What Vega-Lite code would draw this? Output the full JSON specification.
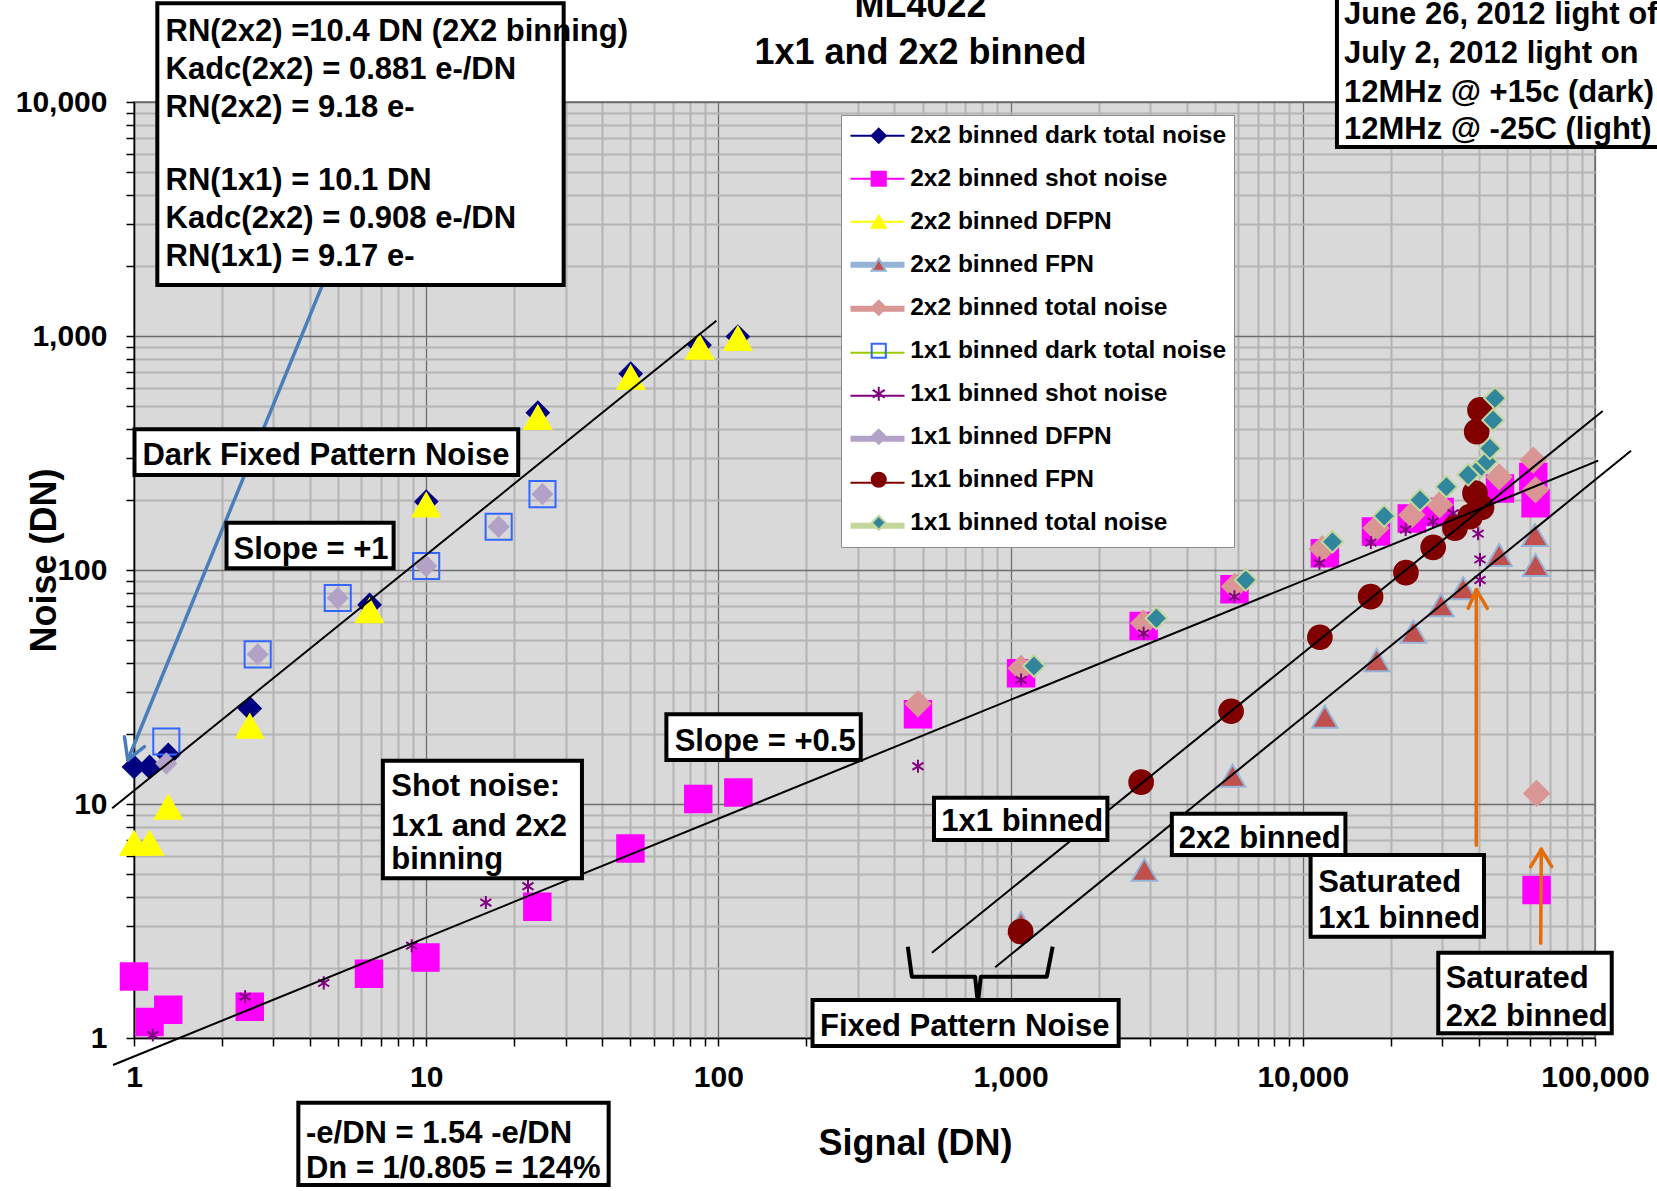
{
  "$schema": "https://vega.github.io/schema/vega-lite/v6.json",
  "width": 1461,
  "height": 936,
  "autosize": {"type": "none"},
  "padding": {"left": 134, "top": 102, "right": 62, "bottom": 153},
  "background": "white",
  "title": {"text": ["ML4022", "1x1 and 2x2 binned"], "font": "Liberation Sans", "fontSize": 36, "fontWeight": "bold", "color": "black", "anchor": "middle", "frame": "group", "dx": 56, "offset": -139.6, "lineHeight": 46.6, "baseline": "bottom"},
  "datasets": {
    "legendlines": [
      {"lg": "L01", "x": 1, "y": 1}, {"lg": "L02", "x": 1, "y": 1}, {"lg": "L03", "x": 1, "y": 1}, {"lg": "L04", "x": 1, "y": 1}, {"lg": "L05", "x": 1, "y": 1},
      {"lg": "L06", "x": 1, "y": 1}, {"lg": "L07", "x": 1, "y": 1}, {"lg": "L08", "x": 1, "y": 1}, {"lg": "L09", "x": 1, "y": 1}, {"lg": "L10", "x": 1, "y": 1}
    ],
    "pts": [
      {"series": "2x2 binned dark total noise", "x": 1, "y": 14.4},
      {"series": "2x2 binned dark total noise", "x": 1.13, "y": 14.4},
      {"series": "2x2 binned dark total noise", "x": 1.31, "y": 16.2},
      {"series": "2x2 binned dark total noise", "x": 2.49, "y": 25.6},
      {"series": "2x2 binned dark total noise", "x": 6.4, "y": 71},
      {"series": "2x2 binned dark total noise", "x": 10, "y": 196},
      {"series": "2x2 binned dark total noise", "x": 24.1, "y": 470},
      {"series": "2x2 binned dark total noise", "x": 50.1, "y": 690},
      {"series": "2x2 binned dark total noise", "x": 86.2, "y": 915},
      {"series": "2x2 binned dark total noise", "x": 116.6, "y": 995},
      {"series": "2x2 binned shot noise", "x": 1, "y": 1.83},
      {"series": "2x2 binned shot noise", "x": 1.13, "y": 1.17},
      {"series": "2x2 binned shot noise", "x": 1.31, "y": 1.32},
      {"series": "2x2 binned shot noise", "x": 2.49, "y": 1.36},
      {"series": "2x2 binned shot noise", "x": 6.37, "y": 1.88},
      {"series": "2x2 binned shot noise", "x": 9.94, "y": 2.21},
      {"series": "2x2 binned shot noise", "x": 24, "y": 3.64},
      {"series": "2x2 binned shot noise", "x": 50, "y": 6.45},
      {"series": "2x2 binned shot noise", "x": 85.3, "y": 10.5},
      {"series": "2x2 binned shot noise", "x": 117, "y": 11.2},
      {"series": "2x2 binned shot noise", "x": 482, "y": 24.2},
      {"series": "2x2 binned shot noise", "x": 1086, "y": 36.2},
      {"series": "2x2 binned shot noise", "x": 2853, "y": 57.6},
      {"series": "2x2 binned shot noise", "x": 5836, "y": 82.7},
      {"series": "2x2 binned shot noise", "x": 11900, "y": 118},
      {"series": "2x2 binned shot noise", "x": 17800, "y": 146},
      {"series": "2x2 binned shot noise", "x": 23600, "y": 166},
      {"series": "2x2 binned shot noise", "x": 29400, "y": 177},
      {"series": "2x2 binned shot noise", "x": 47300, "y": 223},
      {"series": "2x2 binned shot noise", "x": 61500, "y": 250},
      {"series": "2x2 binned shot noise", "x": 62600, "y": 193},
      {"series": "2x2 binned shot noise", "x": 63100, "y": 4.29},
      {"series": "2x2 binned DFPN", "x": 1, "y": 6.8},
      {"series": "2x2 binned DFPN", "x": 1.13, "y": 6.8},
      {"series": "2x2 binned DFPN", "x": 1.31, "y": 9.7},
      {"series": "2x2 binned DFPN", "x": 2.49, "y": 21.5},
      {"series": "2x2 binned DFPN", "x": 6.4, "y": 67},
      {"series": "2x2 binned DFPN", "x": 10, "y": 190},
      {"series": "2x2 binned DFPN", "x": 24.1, "y": 449},
      {"series": "2x2 binned DFPN", "x": 50.1, "y": 665},
      {"series": "2x2 binned DFPN", "x": 86.2, "y": 896},
      {"series": "2x2 binned DFPN", "x": 116.6, "y": 977},
      {"series": "2x2 binned FPN", "x": 1085, "y": 3.1},
      {"series": "2x2 binned FPN", "x": 2870, "y": 5.24},
      {"series": "2x2 binned FPN", "x": 5750, "y": 13.2},
      {"series": "2x2 binned FPN", "x": 11900, "y": 23.6},
      {"series": "2x2 binned FPN", "x": 17900, "y": 41.2},
      {"series": "2x2 binned FPN", "x": 23900, "y": 54.5},
      {"series": "2x2 binned FPN", "x": 29700, "y": 70.8},
      {"series": "2x2 binned FPN", "x": 35400, "y": 83.5},
      {"series": "2x2 binned FPN", "x": 47000, "y": 116},
      {"series": "2x2 binned FPN", "x": 62300, "y": 141},
      {"series": "2x2 binned FPN", "x": 62600, "y": 105},
      {"series": "2x2 binned total noise", "x": 482, "y": 26.8},
      {"series": "2x2 binned total noise", "x": 1086, "y": 38},
      {"series": "2x2 binned total noise", "x": 2853, "y": 59.2},
      {"series": "2x2 binned total noise", "x": 5836, "y": 85},
      {"series": "2x2 binned total noise", "x": 11650, "y": 123},
      {"series": "2x2 binned total noise", "x": 17800, "y": 151},
      {"series": "2x2 binned total noise", "x": 23600, "y": 172},
      {"series": "2x2 binned total noise", "x": 29400, "y": 190},
      {"series": "2x2 binned total noise", "x": 47000, "y": 250},
      {"series": "2x2 binned total noise", "x": 61500, "y": 295},
      {"series": "2x2 binned total noise", "x": 62600, "y": 220},
      {"series": "2x2 binned total noise", "x": 63100, "y": 11.1},
      {"series": "1x1 binned dark total noise", "x": 1.29, "y": 18.5},
      {"series": "1x1 binned dark total noise", "x": 2.65, "y": 43.6},
      {"series": "1x1 binned dark total noise", "x": 4.98, "y": 75.9},
      {"series": "1x1 binned dark total noise", "x": 10, "y": 104},
      {"series": "1x1 binned dark total noise", "x": 17.7, "y": 153},
      {"series": "1x1 binned dark total noise", "x": 25, "y": 211},
      {"series": "1x1 binned shot noise", "x": 1.16, "y": 1.03},
      {"series": "1x1 binned shot noise", "x": 2.4, "y": 1.5},
      {"series": "1x1 binned shot noise", "x": 4.46, "y": 1.72},
      {"series": "1x1 binned shot noise", "x": 8.92, "y": 2.48},
      {"series": "1x1 binned shot noise", "x": 16, "y": 3.79},
      {"series": "1x1 binned shot noise", "x": 22.3, "y": 4.45},
      {"series": "1x1 binned shot noise", "x": 482, "y": 14.5},
      {"series": "1x1 binned shot noise", "x": 1086, "y": 33.9},
      {"series": "1x1 binned shot noise", "x": 2853, "y": 53.6},
      {"series": "1x1 binned shot noise", "x": 5836, "y": 76.9},
      {"series": "1x1 binned shot noise", "x": 11400, "y": 107},
      {"series": "1x1 binned shot noise", "x": 17100, "y": 131},
      {"series": "1x1 binned shot noise", "x": 22500, "y": 149},
      {"series": "1x1 binned shot noise", "x": 27900, "y": 161},
      {"series": "1x1 binned shot noise", "x": 32700, "y": 175},
      {"series": "1x1 binned shot noise", "x": 39800, "y": 143},
      {"series": "1x1 binned shot noise", "x": 40400, "y": 111},
      {"series": "1x1 binned shot noise", "x": 40400, "y": 90.6},
      {"series": "1x1 binned DFPN", "x": 1.29, "y": 14.9},
      {"series": "1x1 binned DFPN", "x": 2.65, "y": 43.6},
      {"series": "1x1 binned DFPN", "x": 4.98, "y": 75.9},
      {"series": "1x1 binned DFPN", "x": 10, "y": 104},
      {"series": "1x1 binned DFPN", "x": 17.7, "y": 153},
      {"series": "1x1 binned DFPN", "x": 25, "y": 211},
      {"series": "1x1 binned FPN", "x": 1082, "y": 2.85},
      {"series": "1x1 binned FPN", "x": 2797, "y": 12.4},
      {"series": "1x1 binned FPN", "x": 5683, "y": 24.9},
      {"series": "1x1 binned FPN", "x": 11440, "y": 51.6},
      {"series": "1x1 binned FPN", "x": 17060, "y": 76.9},
      {"series": "1x1 binned FPN", "x": 22540, "y": 97.4},
      {"series": "1x1 binned FPN", "x": 27940, "y": 125},
      {"series": "1x1 binned FPN", "x": 33170, "y": 151},
      {"series": "1x1 binned FPN", "x": 37340, "y": 169},
      {"series": "1x1 binned FPN", "x": 40900, "y": 185},
      {"series": "1x1 binned FPN", "x": 38840, "y": 213},
      {"series": "1x1 binned FPN", "x": 39360, "y": 390},
      {"series": "1x1 binned FPN", "x": 40400, "y": 483},
      {"series": "1x1 binned total noise", "x": 1202, "y": 38.9},
      {"series": "1x1 binned total noise", "x": 3154, "y": 62.2},
      {"series": "1x1 binned total noise", "x": 6376, "y": 90.6},
      {"series": "1x1 binned total noise", "x": 12630, "y": 132},
      {"series": "1x1 binned total noise", "x": 19000, "y": 170},
      {"series": "1x1 binned total noise", "x": 25200, "y": 199},
      {"series": "1x1 binned total noise", "x": 31000, "y": 227},
      {"series": "1x1 binned total noise", "x": 36800, "y": 255},
      {"series": "1x1 binned total noise", "x": 40900, "y": 277},
      {"series": "1x1 binned total noise", "x": 42600, "y": 291},
      {"series": "1x1 binned total noise", "x": 43700, "y": 331},
      {"series": "1x1 binned total noise", "x": 44800, "y": 437},
      {"series": "1x1 binned total noise", "x": 45500, "y": 542}
    ],
    "trend": [
      {"x": 0.842, "y": 9.586, "x2": 98.4, "y2": 1163},
      {"x": 0.848, "y": 0.767, "x2": 102600, "y2": 293.2},
      {"x": 538.2, "y": 2.315, "x2": 106300, "y2": 478},
      {"x": 885.8, "y": 2.005, "x2": 132800, "y2": 323.5}
    ],
    "bluearrow": [
      {"x": 4.53, "y": 1790, "x2": 0.9523, "y2": 15.42},
      {"x": 0.9278, "y": 19.4, "x2": 0.9523, "y2": 15.42},
      {"x": 1.0863, "y": 17.58, "x2": 0.9523, "y2": 15.42}
    ],
    "orangearrows": [
      {"x": 39240, "y": 6.656, "x2": 39240, "y2": 82.37},
      {"x": 36830, "y": 68.6, "x2": 39240, "y2": 82.37},
      {"x": 42800, "y": 68.6, "x2": 39240, "y2": 82.37},
      {"x": 65200, "y": 2.539, "x2": 65500, "y2": 6.404},
      {"x": 60230, "y": 5.396, "x2": 65500, "y2": 6.404},
      {"x": 71080, "y": 5.396, "x2": 65500, "y2": 6.404}
    ],
    "brace": [
      {"i": 1, "x": 444.9, "y": 2.456},
      {"i": 2, "x": 459.3, "y": 1.828},
      {"i": 3, "x": 755.7, "y": 1.828},
      {"i": 4, "x": 772.8, "y": 1.407},
      {"i": 5, "x": 790.7, "y": 1.828},
      {"i": 6, "x": 1330, "y": 1.828},
      {"i": 7, "x": 1393, "y": 2.456}
    ],
    "boxes": [
      {"x1": 1.2017, "x2": 29.54, "y1": 26410, "y2": 1651},
      {"x1": 13088, "x2": 228800, "y1": 36650, "y2": 6422},
      {"x1": 1.004, "x2": 20.65, "y1": 399.2, "y2": 254.7},
      {"x1": 2.073, "x2": 7.735, "y1": 159.3, "y2": 101.7},
      {"x1": 66.37, "x2": 307, "y1": 24.17, "y2": 15.42},
      {"x1": 7.108, "x2": 34.12, "y1": 15.31, "y2": 4.814},
      {"x1": 546.8, "x2": 2144, "y1": 10.63, "y2": 7.011},
      {"x1": 3563, "x2": 13990, "y1": 9.09, "y2": 6.055},
      {"x1": 10634, "x2": 41690, "y1": 6.055, "y2": 2.71},
      {"x1": 29080, "x2": 114100, "y1": 2.315, "y2": 1.047},
      {"x1": 210, "x2": 2343, "y1": 1.453, "y2": 0.9243},
      {"x1": 3.651, "x2": 42.11, "y1": 0.5291, "y2": 0.2354}
    ],
    "notes": [
      {"x": 1.2818, "y": 19890, "text": "RN(2x2) =10.4 DN (2X2 binning)"},
      {"x": 1.2818, "y": 13690, "text": "Kadc(2x2) = 0.881 e-/DN"},
      {"x": 1.2818, "y": 9465, "text": "RN(2x2) = 9.18 e-"},
      {"x": 1.2818, "y": 4574, "text": "RN(1x1) = 10.1 DN"},
      {"x": 1.2818, "y": 3147, "text": "Kadc(2x2) = 0.908 e-/DN"},
      {"x": 1.2818, "y": 2186, "text": "RN(1x1) = 9.17 e-"},
      {"x": 13830, "y": 23540, "text": "June 26, 2012 light off"},
      {"x": 13830, "y": 16040, "text": "July 2, 2012 light on"},
      {"x": 13830, "y": 10925, "text": "12MHz @ +15c (dark)"},
      {"x": 13830, "y": 7593, "text": "12MHz @ -25C (light)"},
      {"x": 1.0685, "y": 307, "text": "Dark Fixed Pattern Noise"},
      {"x": 2.191, "y": 121.8, "text": "Slope = +1"},
      {"x": 70.86, "y": 18.46, "text": "Slope = +0.5"},
      {"x": 7.595, "y": 11.79, "text": "Shot noise:"},
      {"x": 7.595, "y": 8.0, "text": "1x1 and 2x2"},
      {"x": 7.595, "y": 5.77, "text": "binning"},
      {"x": 579.4, "y": 8.379, "text": "1x1 binned"},
      {"x": 3765, "y": 7.088, "text": "2x2 binned"},
      {"x": 11290, "y": 4.609, "text": "Saturated"},
      {"x": 11290, "y": 3.216, "text": "1x1 binned"},
      {"x": 30820, "y": 1.782, "text": "Saturated"},
      {"x": 30820, "y": 1.233, "text": "2x2 binned"},
      {"x": 222.7, "y": 1.117, "text": "Fixed Pattern Noise"},
      {"x": 3.877, "y": 0.3888, "text": "-e/DN = 1.54 -e/DN"},
      {"x": 3.877, "y": 0.2755, "text": "Dn = 1/0.805 = 124%"}
    ]
  },
  "layer": [
    {
      "data": {"name": "trend"},
      "mark": {"type": "rule", "stroke": "black", "strokeWidth": 2, "opacity": 0},
      "encoding": {
        "x": {"field": "x", "type": "quantitative", "scale": {"type": "log", "domain": [1, 100000], "nice": false},
          "axis": {
            "values": [1,2,3,4,5,6,7,8,9,10,20,30,40,50,60,70,80,90,100,200,300,400,500,600,700,800,900,1000,2000,3000,4000,5000,6000,7000,8000,9000,10000,20000,30000,40000,50000,60000,70000,80000,90000,100000],
            "labelExpr": "indexof([1,10,100,1000,10000,100000], datum.value) >= 0 ? format(datum.value, ',') : ''",
            "labelOverlap": false, "labelFlush": false, "labelPadding": 16,
            "gridColor": {"condition": {"test": "indexof([1,10,100,1000,10000,100000], datum.value) >= 0", "value": "#6E6E6E"}, "value": "#B4B4B4"},
            "gridWidth": {"condition": {"test": "indexof([1,10,100,1000,10000,100000], datum.value) >= 0", "value": 1.3}, "value": 2},
            "title": "Signal (DN)", "titleX": 781, "titleY": 105, "titleBaseline": "middle", "titleAlign": "center"
          }
        },
        "y": {"field": "y", "type": "quantitative", "scale": {"type": "log", "domain": [1, 10000], "nice": false},
          "axis": {
            "values": [1,2,3,4,5,6,7,8,9,10,20,30,40,50,60,70,80,90,100,200,300,400,500,600,700,800,900,1000,2000,3000,4000,5000,6000,7000,8000,9000,10000],
            "labelExpr": "indexof([1,10,100,1000,10000], datum.value) >= 0 ? format(datum.value, ',') : ''",
            "labelOverlap": false, "labelFlush": false, "labelPadding": 19,
            "gridColor": {"condition": {"test": "indexof([1,10,100,1000,10000], datum.value) >= 0", "value": "#6E6E6E"}, "value": "#B4B4B4"},
            "gridWidth": {"condition": {"test": "indexof([1,10,100,1000,10000], datum.value) >= 0", "value": 1.3}, "value": 2},
            "title": "Noise (DN)", "titleX": -90, "titleY": 458, "titleBaseline": "middle", "titleAlign": "center", "titleAngle": -90
          }
        },
        "x2": {"field": "x2"}, "y2": {"field": "y2"}
      }
    },
    {
      "data": {"name": "legendlines"},
      "transform": [{"filter": "false"}],
      "mark": {"type": "line"},
      "encoding": {
        "x": {"field": "x", "type": "quantitative", "scale": {"type": "log", "domain": [1, 100000], "nice": false}},
        "y": {"field": "y", "type": "quantitative", "scale": {"type": "log", "domain": [1, 10000], "nice": false}},
        "color": {
          "field": "lg", "type": "nominal",
          "scale": {"domain": ["L01", "L02", "L03", "L04", "L05", "L06", "L07", "L08", "L09", "L10"], "range": ["#000080", "#FF00FF", "#FFFF00", "#95B3D7", "#D99694", "#99CC00", "#800080", "#B3A2C7", "#800000", "#C3D69B"]},
          "legend": {
            "orient": "none", "legendX": 707, "legendY": 13, "title": null,
            "labelFont": "Liberation Sans", "labelFontSize": 24.5, "labelFontWeight": "bold", "labelOpacity": 0, "labelLimit": 600,
            "labelExpr": "''",
            "symbolType": "stroke", "symbolSize": 2916, "symbolStrokeWidth": 2, "symbolOffset": 15.75, "labelOffset": 335.75,
            "padding": 8.5, "rowPadding": 18, "fillColor": "white", "strokeColor": "#8C8C8C",
            "encode": {"symbols": {"update": {"strokeWidth": {"signal": "indexof(['L04','L05','L08','L10'], datum.value) >= 0 ? 6 : 2"}}}}
          }
        }
      }
    },
    {
      "data": {"name": "pts"},
      "encoding": {
        "x": {"field": "x", "type": "quantitative", "scale": {"type": "log", "domain": [1, 100000], "nice": false}},
        "y": {"field": "y", "type": "quantitative", "scale": {"type": "log", "domain": [1, 10000], "nice": false}},
        "shape": {"field": "series", "type": "nominal",
          "scale": {"domain": ["2x2 binned dark total noise", "2x2 binned shot noise", "2x2 binned DFPN", "2x2 binned FPN", "2x2 binned total noise", "1x1 binned dark total noise", "1x1 binned shot noise", "1x1 binned DFPN", "1x1 binned FPN", "1x1 binned total noise"],
            "range": ["diamond", "square", "triangle-up", "triangle-up", "diamond", "square", "M0,-1L0,1M-0.85,-0.55L0.85,0.55M-0.85,0.55L0.85,-0.55", "diamond", "circle", "diamond"]},
          "legend": {"orient": "none", "legendX": 707, "legendY": 13, "title": null, "labelFont": "Liberation Sans", "labelFontSize": 24.5, "labelFontWeight": "bold", "labelColor": "black", "labelLimit": 600, "symbolSize": 200, "symbolStrokeWidth": 2, "symbolOffset": 17, "labelOffset": 19.2, "padding": 8.5, "rowPadding": 18}
        },
        "fill": {"field": "series", "type": "nominal",
          "scale": {"domain": ["2x2 binned dark total noise", "2x2 binned shot noise", "2x2 binned DFPN", "2x2 binned FPN", "2x2 binned total noise", "1x1 binned dark total noise", "1x1 binned shot noise", "1x1 binned DFPN", "1x1 binned FPN", "1x1 binned total noise"],
            "range": ["#000080", "#FF00FF", "#FFFF00", "#C0504D", "#D99694", "transparent", "transparent", "#B3A2C7", "#800000", "#31859C"]},
          "legend": {"orient": "none", "legendX": 707, "legendY": 13, "title": null, "labelFont": "Liberation Sans", "labelFontSize": 24.5, "labelFontWeight": "bold", "labelColor": "black", "labelLimit": 600, "symbolSize": 200, "symbolStrokeWidth": 2, "symbolOffset": 17, "labelOffset": 19.2, "padding": 8.5, "rowPadding": 18}
        },
        "stroke": {"field": "series", "type": "nominal",
          "scale": {"domain": ["2x2 binned dark total noise", "2x2 binned shot noise", "2x2 binned DFPN", "2x2 binned FPN", "2x2 binned total noise", "1x1 binned dark total noise", "1x1 binned shot noise", "1x1 binned DFPN", "1x1 binned FPN", "1x1 binned total noise"],
            "range": ["#000080", "#FF00FF", "#FFFF00", "#95B3D7", "#D99694", "#3366FF", "#800080", "#B3A2C7", "#800000", "#C3D69B"]},
          "legend": {"orient": "none", "legendX": 707, "legendY": 13, "title": null, "labelFont": "Liberation Sans", "labelFontSize": 24.5, "labelFontWeight": "bold", "labelColor": "black", "labelLimit": 600, "symbolSize": 200, "symbolStrokeWidth": 2, "symbolOffset": 17, "labelOffset": 19.2, "padding": 8.5, "rowPadding": 18}
        }
      },
      "layer": [
        {"transform": [{"filter": {"field": "series", "equal": "2x2 binned dark total noise"}}], "mark": {"type": "point", "filled": true, "opacity": 1, "strokeWidth": 2, "size": 480}},
        {"transform": [{"filter": {"field": "series", "equal": "2x2 binned shot noise"}}], "mark": {"type": "point", "filled": true, "opacity": 1, "strokeWidth": 2, "size": 700}},
        {"transform": [{"filter": {"field": "series", "equal": "2x2 binned DFPN"}}], "mark": {"type": "point", "filled": true, "opacity": 1, "strokeWidth": 2, "size": 720}},
        {"transform": [{"filter": {"field": "series", "equal": "2x2 binned FPN"}}], "mark": {"type": "point", "filled": true, "opacity": 1, "strokeWidth": 2, "size": 650}},
        {"transform": [{"filter": {"field": "series", "equal": "2x2 binned total noise"}}], "mark": {"type": "point", "filled": true, "opacity": 1, "strokeWidth": 2, "size": 600}},
        {"transform": [{"filter": {"field": "series", "equal": "1x1 binned dark total noise"}}], "mark": {"type": "point", "filled": true, "opacity": 1, "strokeWidth": 2, "size": 680}},
        {"transform": [{"filter": {"field": "series", "equal": "1x1 binned shot noise"}}], "mark": {"type": "point", "filled": true, "opacity": 1, "strokeWidth": 2, "size": 170}},
        {"transform": [{"filter": {"field": "series", "equal": "1x1 binned DFPN"}}], "mark": {"type": "point", "filled": true, "opacity": 1, "strokeWidth": 2, "size": 380}},
        {"transform": [{"filter": {"field": "series", "equal": "1x1 binned FPN"}}], "mark": {"type": "point", "filled": true, "opacity": 1, "strokeWidth": 2, "size": 560}},
        {"transform": [{"filter": {"field": "series", "equal": "1x1 binned total noise"}}], "mark": {"type": "point", "filled": true, "opacity": 1, "strokeWidth": 2, "size": 470}}
      ]
    },
    {
      "data": {"name": "trend"},
      "mark": {"type": "rule", "stroke": "black", "strokeWidth": 2},
      "encoding": {
        "x": {"field": "x", "type": "quantitative", "scale": {"type": "log", "domain": [1, 100000], "nice": false}},
        "y": {"field": "y", "type": "quantitative", "scale": {"type": "log", "domain": [1, 10000], "nice": false}},
        "x2": {"field": "x2"}, "y2": {"field": "y2"}
      }
    },
    {
      "data": {"name": "bluearrow"},
      "mark": {"type": "rule", "stroke": "#4A7EBB", "strokeWidth": 3.5, "strokeCap": "round"},
      "encoding": {
        "x": {"field": "x", "type": "quantitative", "scale": {"type": "log", "domain": [1, 100000], "nice": false}},
        "y": {"field": "y", "type": "quantitative", "scale": {"type": "log", "domain": [1, 10000], "nice": false}},
        "x2": {"field": "x2"}, "y2": {"field": "y2"}
      }
    },
    {
      "data": {"name": "orangearrows"},
      "mark": {"type": "rule", "stroke": "#E46C0A", "strokeWidth": 3.5, "strokeCap": "round"},
      "encoding": {
        "x": {"field": "x", "type": "quantitative", "scale": {"type": "log", "domain": [1, 100000], "nice": false}},
        "y": {"field": "y", "type": "quantitative", "scale": {"type": "log", "domain": [1, 10000], "nice": false}},
        "x2": {"field": "x2"}, "y2": {"field": "y2"}
      }
    },
    {
      "data": {"name": "brace"},
      "mark": {"type": "line", "stroke": "black", "strokeWidth": 4, "strokeJoin": "round"},
      "encoding": {
        "x": {"field": "x", "type": "quantitative", "scale": {"type": "log", "domain": [1, 100000], "nice": false}},
        "y": {"field": "y", "type": "quantitative", "scale": {"type": "log", "domain": [1, 10000], "nice": false}},
        "order": {"field": "i", "type": "quantitative"}
      }
    },
    {
      "data": {"name": "boxes"},
      "mark": {"type": "rect", "fill": "white", "stroke": "black", "strokeWidth": 4},
      "encoding": {
        "x": {"field": "x1", "type": "quantitative", "scale": {"type": "log", "domain": [1, 100000], "nice": false}},
        "x2": {"field": "x2"},
        "y": {"field": "y1", "type": "quantitative", "scale": {"type": "log", "domain": [1, 10000], "nice": false}},
        "y2": {"field": "y2"}
      }
    },
    {
      "data": {"name": "notes"},
      "mark": {"type": "text", "align": "left", "baseline": "middle", "font": "Liberation Sans", "fontSize": 31, "fontWeight": "bold", "color": "black"},
      "encoding": {
        "x": {"field": "x", "type": "quantitative", "scale": {"type": "log", "domain": [1, 100000], "nice": false}},
        "y": {"field": "y", "type": "quantitative", "scale": {"type": "log", "domain": [1, 10000], "nice": false}},
        "text": {"field": "text"}
      }
    }
  ],
  "config": {
    "font": "Liberation Sans",
    "view": {"fill": "#D9D9D9", "stroke": "#8C8C8C", "strokeWidth": 2},
    "axis": {
      "domainColor": "black", "domainWidth": 1.5, "tickColor": "black", "tickWidth": 1.5, "tickSize": 8, "grid": true,
      "labelFont": "Liberation Sans", "labelFontSize": 30, "labelFontWeight": "bold", "labelColor": "black",
      "titleFont": "Liberation Sans", "titleFontSize": 36, "titleFontWeight": "bold", "titleColor": "black"
    }
  }
}
